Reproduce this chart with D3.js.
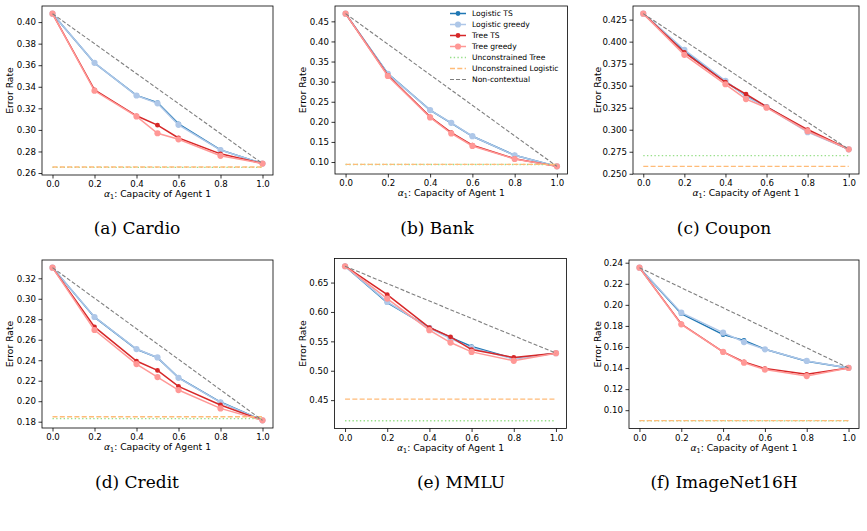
<!DOCTYPE html>
<html>
<head>
<meta charset="utf-8">
<script src="https://cdn.jsdelivr.net/npm/d3@7"></script>
<style>
	body { margin: 0; background: #fff; }
	svg { display: block; }
</style>
</head>
<body>
<div id="fig"></div>
<script>
// x values shared by every panel
const alphas = [0, 0.2, 0.4, 0.5, 0.6, 0.8, 1.0];
const xTicks = [0, 0.2, 0.4, 0.6, 0.8, 1.0];

const captions = ["(a) Cardio", "(b) Bank", "(c) Coupon", "(d) Credit", "(e) MMLU", "(f) ImageNet16H"];

// one row per panel, in the same order as captions
const logisticTS = [
	[0.4078, 0.3620, 0.3320, 0.3253, 0.3056, 0.2815, 0.2688],
	[0.4692, 0.3200, 0.2290, 0.1970, 0.1640, 0.1170, 0.0892],
	[0.4318, 0.3895, 0.3550, 0.3385, 0.3262, 0.2985, 0.2778],
	[0.3304, 0.2820, 0.2507, 0.2425, 0.2230, 0.1992, 0.1813],
	[0.6778, 0.6160, 0.5735, 0.5565, 0.5412, 0.5208, 0.5299],
	[0.2353, 0.1916, 0.1717, 0.1663, 0.1578, 0.1464, 0.1401]
];
const logisticGreedy = [
	[0.4078, 0.3622, 0.3319, 0.3247, 0.3047, 0.2813, 0.2688],
	[0.4692, 0.3192, 0.2292, 0.1975, 0.1642, 0.1167, 0.0892],
	[0.4318, 0.3908, 0.3554, 0.3375, 0.3257, 0.2972, 0.2778],
	[0.3304, 0.2822, 0.2509, 0.2427, 0.2228, 0.1989, 0.1813],
	[0.6778, 0.6171, 0.5724, 0.5548, 0.5390, 0.5200, 0.5299],
	[0.2353, 0.1926, 0.1736, 0.1647, 0.1578, 0.1468, 0.1401]
];
const treeTS = [
	[0.4078, 0.3372, 0.3131, 0.3044, 0.2925, 0.2778, 0.2688],
	[0.4692, 0.3158, 0.2125, 0.1733, 0.1417, 0.1083, 0.0892],
	[0.4318, 0.3877, 0.3539, 0.3405, 0.3260, 0.3002, 0.2778],
	[0.3304, 0.2725, 0.2392, 0.2301, 0.2145, 0.1963, 0.1813],
	[0.6778, 0.6296, 0.5735, 0.5577, 0.5361, 0.5225, 0.5299],
	[0.2353, 0.1818, 0.1553, 0.1458, 0.1395, 0.1341, 0.1401]
];
const treeGreedy = [
	[0.4078, 0.3363, 0.3125, 0.2969, 0.2913, 0.2760, 0.2688],
	[0.4692, 0.3140, 0.2110, 0.1710, 0.1400, 0.1075, 0.0892],
	[0.4318, 0.3850, 0.3516, 0.3348, 0.3250, 0.2983, 0.2778],
	[0.3304, 0.2695, 0.2363, 0.2236, 0.2109, 0.1930, 0.1813],
	[0.6778, 0.6228, 0.5690, 0.5480, 0.5321, 0.5169, 0.5299],
	[0.2353, 0.1815, 0.1553, 0.1451, 0.1386, 0.1324, 0.1401]
];
const unconstrainedTree = [0.2653, 0.0938, 0.2706, 0.1829, 0.4149, 0.0899];
const unconstrainedLogistic = [0.2656, 0.0942, 0.2584, 0.1849, 0.4517, 0.0901];
// non-contextual: straight line from alpha=0 to alpha=1
const nonContextual = [
	[0.4078, 0.2688],
	[0.4692, 0.0892],
	[0.4318, 0.2778],
	[0.3304, 0.1813],
	[0.6778, 0.5299],
	[0.2353, 0.1401]
];

const yTicks = [
	[0.26, 0.28, 0.30, 0.32, 0.34, 0.36, 0.38, 0.40],
	[0.10, 0.15, 0.20, 0.25, 0.30, 0.35, 0.40, 0.45],
	[0.250, 0.275, 0.300, 0.325, 0.350, 0.375, 0.400, 0.425],
	[0.18, 0.20, 0.22, 0.24, 0.26, 0.28, 0.30, 0.32],
	[0.45, 0.50, 0.55, 0.60, 0.65],
	[0.10, 0.12, 0.14, 0.16, 0.18, 0.20, 0.22, 0.24]
];
const yFormats = [".2f", ".2f", ".3f", ".2f", ".2f", ".2f"];

const legendLabels = ["Logistic TS", "Logistic greedy", "Tree TS", "Tree greedy",
	"Unconstrained Tree", "Unconstrained Logistic", "Non-contextual"];

function figure() {
	let width = 867,
		height = 531;

	// panel frames (pixels) and caption centres
	let panels = [
		{x: 42, y: 6, w: 231, h: 169, ylab: 10, cx: 137, cy: 234},
		{x: 335, y: 6, w: 232.5, h: 168, ylab: 303, cx: 437, cy: 234},
		{x: 633, y: 6, w: 226, h: 168, ylab: 598, cx: 724, cy: 234},
		{x: 42, y: 260, w: 231, h: 168, ylab: 10, cx: 137, cy: 488},
		{x: 334.5, y: 258.5, w: 232, h: 170, ylab: 303, cx: 461, cy: 488},
		{x: 629, y: 260, w: 230, h: 168.5, ylab: 598, cx: 724, cy: 488}
	];

	let styles = [
		{color: "#1f77b4", r: 2.4},
		{color: "#aec7e8", r: 3.1},
		{color: "#d62728", r: 2.4},
		{color: "#ff9896", r: 3.1}
	];

	let svg = d3.select("#fig")
		.append("svg")
		.attr("width", width)
		.attr("height", height)
		.style("font-family", "'DejaVu Sans', sans-serif");

	panels.forEach(function (p, k) {
		let series = [logisticTS[k], logisticGreedy[k], treeTS[k], treeGreedy[k]];
		let allVals = [].concat(...series, unconstrainedTree[k], unconstrainedLogistic[k]);
		let lo = d3.min(allVals),
			hi = d3.max(allVals),
			pad = (hi - lo) * 0.05;

		let x = d3.scaleLinear().domain([-0.05, 1.05]).range([0, p.w]);
		let y = d3.scaleLinear().domain([lo - pad, hi + pad]).range([p.h, 0]);

		let g = svg.append("g")
			.attr("transform", "translate(" + p.x + "," + p.y + ")");

		let line = d3.line()
			.x(function (d, i) { return x(alphas[i]); })
			.y(function (d) { return y(d); });

		series.forEach(function (s, j) {
			g.append("path")
				.datum(s)
				.attr("d", line)
				.attr("fill", "none")
				.attr("stroke", styles[j].color)
				.attr("stroke-width", 1.5);
			g.selectAll(null)
				.data(s)
				.enter()
				.append("circle")
				.attr("cx", function (d, i) { return x(alphas[i]); })
				.attr("cy", function (d) { return y(d); })
				.attr("r", styles[j].r)
				.attr("fill", styles[j].color);
		});

		// unconstrained baselines
		g.append("line")
			.attr("x1", x(0)).attr("x2", x(1))
			.attr("y1", y(unconstrainedTree[k])).attr("y2", y(unconstrainedTree[k]))
			.attr("stroke", "#98df8a")
			.attr("stroke-width", 1.3)
			.attr("stroke-dasharray", "1.4,2.3");
		g.append("line")
			.attr("x1", x(0)).attr("x2", x(1))
			.attr("y1", y(unconstrainedLogistic[k])).attr("y2", y(unconstrainedLogistic[k]))
			.attr("stroke", "#ffbb78")
			.attr("stroke-width", 1.4)
			.attr("stroke-dasharray", "5,2.3");

		g.append("line")
			.attr("x1", x(0)).attr("x2", x(1))
			.attr("y1", y(nonContextual[k][0])).attr("y2", y(nonContextual[k][1]))
			.attr("stroke", "#7f7f7f")
			.attr("stroke-width", 1.1)
			.attr("stroke-dasharray", "4,2");

		// axes
		let xAxis = g.append("g")
			.attr("transform", "translate(0," + p.h + ")")
			.call(d3.axisBottom(x).tickValues(xTicks).tickFormat(d3.format(".1f")).tickSize(3.5).tickPadding(2.5));
		let yAxis = g.append("g")
			.call(d3.axisLeft(y).tickValues(yTicks[k]).tickFormat(d3.format(yFormats[k])).tickSize(3.5).tickPadding(2.5));

		[xAxis, yAxis].forEach(function (a) {
			a.attr("font-family", null).attr("font-size", null);
			a.select(".domain").remove();
			a.selectAll("line").attr("stroke", "#000").attr("stroke-width", 0.8);
			a.selectAll("text")
				.attr("font-size", 8.6)
				.attr("fill", "#000");
		});

		g.append("rect")
			.attr("width", p.w)
			.attr("height", p.h)
			.attr("fill", "none")
			.attr("stroke", "#000")
			.attr("stroke-width", 0.8);

		// axis labels
		let xl = g.append("text")
			.attr("x", p.w / 2)
			.attr("y", p.h + 22)
			.attr("text-anchor", "middle")
			.attr("font-size", 9.2)
			.attr("fill", "#000");
		xl.append("tspan").attr("font-style", "italic").text("α");
		xl.append("tspan").attr("font-size", 6.4).attr("dy", 2).text("1");
		xl.append("tspan").attr("dy", -2).text(": Capacity of Agent 1");

		svg.append("text")
			.attr("transform", "translate(" + (p.ylab + 3.3) + "," + (p.y + p.h / 2) + ") rotate(-90)")
			.attr("text-anchor", "middle")
			.attr("font-size", 9.2)
			.attr("fill", "#000")
			.text("Error Rate");

		// sub-figure caption
		svg.append("text")
			.attr("x", p.cx)
			.attr("y", p.cy)
			.attr("text-anchor", "middle")
			.style("font-family", "'DejaVu Serif', serif")
			.attr("font-size", 17)
			.attr("fill", "#000")
			.text(captions[k]);

		// legend only in the Bank panel
		if (k === 1) {
			let leg = svg.append("g")
				.attr("transform", "translate(450,13.5)");
			let entries = leg.selectAll("g")
				.data(legendLabels)
				.enter()
				.append("g")
				.attr("transform", function (d, i) { return "translate(0," + (i * 11) + ")"; });
			entries.each(function (d, i) {
				let e = d3.select(this);
				if (i < 4) {
					e.append("line").attr("x1", 0).attr("x2", 16)
						.attr("stroke", styles[i].color).attr("stroke-width", 1.5);
					e.append("circle").attr("cx", 8).attr("r", styles[i].r).attr("fill", styles[i].color);
				} else if (i === 4) {
					e.append("line").attr("x1", 0).attr("x2", 16)
						.attr("stroke", "#98df8a").attr("stroke-width", 1.3).attr("stroke-dasharray", "1.4,2.3");
				} else if (i === 5) {
					e.append("line").attr("x1", 0).attr("x2", 16)
						.attr("stroke", "#ffbb78").attr("stroke-width", 1.4).attr("stroke-dasharray", "5,2.3");
				} else {
					e.append("line").attr("x1", 0).attr("x2", 16)
						.attr("stroke", "#7f7f7f").attr("stroke-width", 1.1).attr("stroke-dasharray", "4,2");
				}
				e.append("text")
					.attr("x", 22)
					.attr("dy", "0.35em")
					.attr("font-size", 7.6)
					.attr("fill", "#000")
					.text(d);
			});
		}
	});
}

figure();
</script>
</body>
</html>
